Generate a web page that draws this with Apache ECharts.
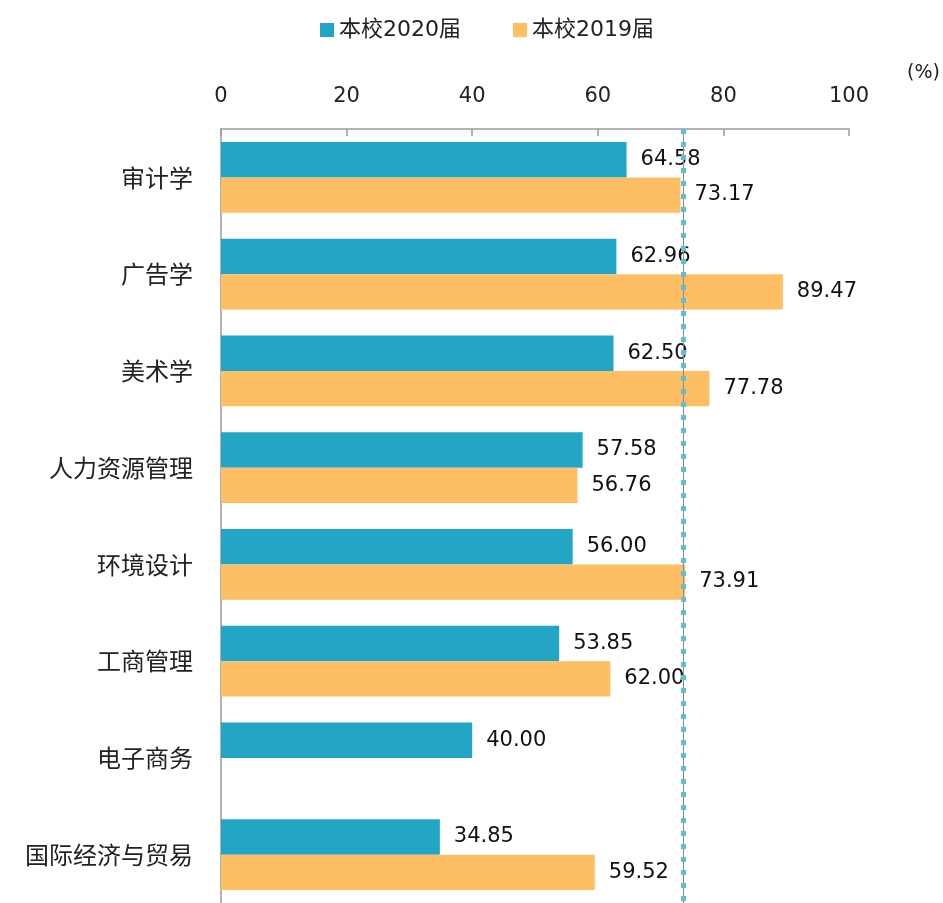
<!DOCTYPE html>
<html>
<head>
<meta charset="utf-8">
<script src="https://cdn.jsdelivr.net/npm/echarts@6/dist/echarts.min.js"></script>
<style>
html,body{margin:0;padding:0;background:#fff}
#main{width:943px;height:903px}
</style>
</head>
<body>
<div id="main"></div>
<script>
var categories = ['审计学', '广告学', '美术学', '人力资源管理', '环境设计', '工商管理', '电子商务', '国际经济与贸易']
var values2020 = [64.58, 62.96, 62.50, 57.58, 56.00, 53.85, 40.00, 34.85]
var values2019 = [73.17, 89.47, 77.78, 56.76, 73.91, 62.00, null, 59.52]
var avgLine = 73.57

var font = '"DejaVu Sans", "Noto Sans CJK SC", sans-serif'
var cjk = '"Noto Sans CJK SC", sans-serif'
var chart = echarts.init(document.getElementById('main'))

var fmt = function (p) {
	return p.value == null ? '' : Number(p.value).toFixed(2)
}

chart.setOption({
	animation: false,
	textStyle: { fontFamily: font },
	legend: {
		top: 14,
		left: 315,
		itemWidth: 14,
		itemHeight: 14,
		itemGap: 52,
		icon: 'rect',
		textStyle: { fontSize: 22, color: '#222', fontFamily: font },
		data: ['本校2020届', '本校2019届']
	},
	graphic: [{
		type: 'text',
		left: 907,
		top: 64,
		style: { text: '(%)', fontSize: 19, fill: '#222', fontFamily: font }
	}],
	grid: { left: 221, right: 94, top: 129, height: 782 },
	xAxis: {
		type: 'value',
		position: 'top',
		min: 0,
		max: 100,
		interval: 20,
		axisLine: { show: true, lineStyle: { color: '#9a9a9a', width: 1.5 } },
		axisTick: { show: true, inside: true, length: 7, lineStyle: { color: '#9a9a9a', width: 1.5 } },
		splitLine: { show: false },
		axisLabel: { fontSize: 21, color: '#222', margin: 22 }
	},
	yAxis: {
		type: 'category',
		inverse: true,
		data: categories,
		axisLine: { lineStyle: { color: '#9a9a9a', width: 1.5 } },
		axisTick: { inside: true, length: 6, lineStyle: { color: '#9a9a9a', width: 1.5 } },
		axisLabel: { fontSize: 24, color: '#222', margin: 28, fontFamily: cjk }
	},
	series: [{
		name: '本校2020届',
		type: 'bar',
		data: values2020,
		barGap: '0%',
		barCategoryGap: '27%',
		itemStyle: { color: '#23a5c6' },
		label: { show: true, position: 'right', distance: 14, fontSize: 21, color: '#111', formatter: fmt },
		markLine: {
			silent: true,
			symbol: 'none',
			label: { show: false },
			data: [
				{ xAxis: avgLine, lineStyle: { color: '#8a8a8a', width: 1, type: 'solid' } },
				{ xAxis: avgLine, lineStyle: { color: '#5fbfd8', width: 5, type: [5, 8], opacity: 1 } }
			]
		}
	}, {
		name: '本校2019届',
		type: 'bar',
		data: values2019,
		barGap: '0%',
		barCategoryGap: '27%',
		itemStyle: { color: '#febe63' },
		label: { show: true, position: 'right', distance: 14, fontSize: 21, color: '#111', formatter: fmt }
	}]
})
</script>
</body>
</html>
